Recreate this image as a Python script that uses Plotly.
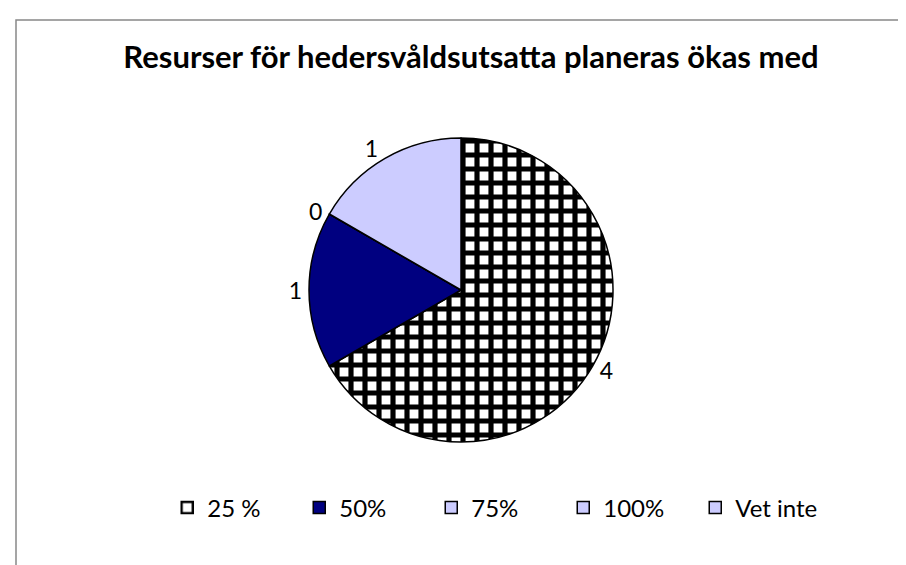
import plotly.graph_objects as go

categories = ["25 %", "50%", "75%", "100%", "Vet inte"]
values = [4, 1, 0, 0, 1]
slice_colors = ["#ffffff", "#000080", "#ccccff", "#ccccff", "#ccccff"]
slice_patterns = ["+", "", "", "", ""]
# the two zero-valued labels overlap in the original, so only one "0" is visible
label_visible = [True, True, True, False, True]
title_text = "Resurser för hedersvåldsutsatta planeras ökas med"

W, H = 906, 565

slice_text = [str(v) if show else "" for v, show in zip(values, label_visible)]

fig = go.Figure(
    go.Pie(
        labels=categories,
        values=values,
        text=slice_text,
        sort=False,
        direction="clockwise",
        rotation=0,
        marker=dict(
            colors=slice_colors,
            line=dict(color="black", width=1.5),
            pattern=dict(shape=slice_patterns, fgcolor="black", bgcolor="white",
                         size=14, solidity=0.6),
        ),
        textinfo="text",
        textposition="outside",
        textfont=dict(family="Lato", size=23, color="black"),
        domain=dict(x=[301 / W, 605 / W], y=[131 / H, 435 / H]),
        showlegend=True,
    )
)

fig.update_layout(
    width=W,
    height=H,
    margin=dict(l=0, r=0, t=0, b=0),
    paper_bgcolor="white",
    plot_bgcolor="white",
    title=dict(
        text="<b>" + title_text + "</b>",
        x=463 / W,
        y=1 - 49 / H,
        xanchor="center",
        yanchor="middle",
        font=dict(family="Lato", size=31, color="black"),
    ),
    legend=dict(
        orientation="h",
        x=0.54,
        y=1 - 500 / H,
        xanchor="center",
        yanchor="middle",
        font=dict(family="Lato", size=24, color="black"),
        entrywidth=87,
        entrywidthmode="pixels",
        traceorder="normal",
    ),
    shapes=[
        dict(type="rect", xref="paper", yref="paper",
             x0=8 / W, x1=1.05, y0=-0.05, y1=1 - 12 / H,
             line=dict(color="#888888", width=1.5), fillcolor="rgba(0,0,0,0)",
             layer="below"),
    ],
)

fig.write_html("out.html")
